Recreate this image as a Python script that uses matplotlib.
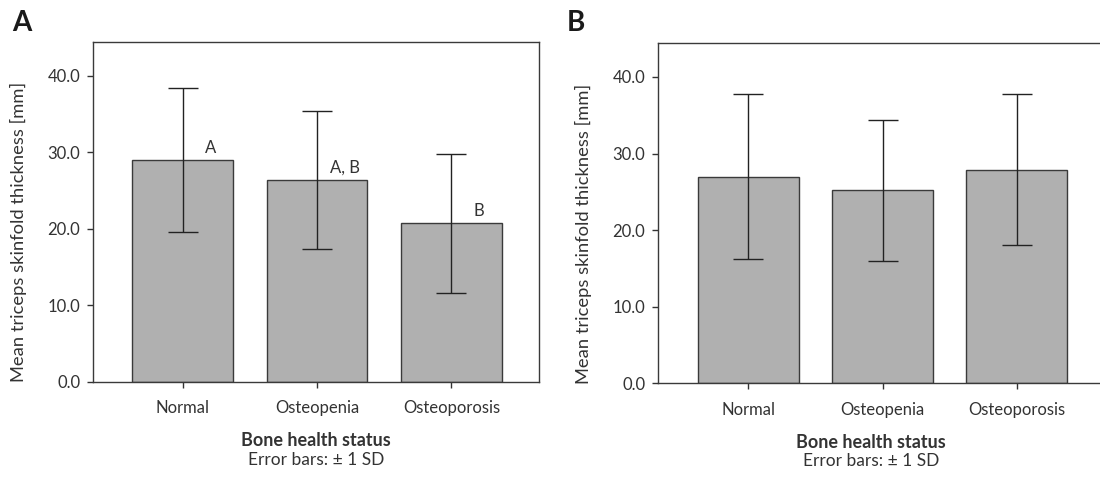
import matplotlib
matplotlib.use("Agg")
import matplotlib.pyplot as plt
import numpy as np

plt.rcParams['font.family'] = ['Lato', 'DejaVu Sans']

groups = ["Normal", "Osteopenia", "Osteoporosis"]

# panel A
means_a = [29.0, 26.4, 20.7]
sd_a = [9.4, 9.0, 9.1]
letters_a = ["A", "A, B", "B"]

# panel B
means_b = [27.0, 25.2, 27.9]
sd_b = [10.8, 9.2, 9.9]

y_ticks = [0, 10, 20, 30, 40]
ylabel = "Mean triceps skinfold thickness [mm]"
xlabel = "Bone health status"
note = "Error bars: \u00b1 1 SD"

txt = "#333333"
bar_fill = "#b0b0b0"
bar_edge = "#3a3a3a"

fig = plt.figure(figsize=(11, 4.79), dpi=100)

W, H = 1100, 479


def px_axes(left, top, right, bottom):
    return fig.add_axes([left / W, 1 - bottom / H, (right - left) / W, (bottom - top) / H])


def draw_panel(ax, means, sds, xlim, xlab_x):
    x = np.arange(len(groups))
    ax.bar(x, means, width=0.75, color=bar_fill, edgecolor=bar_edge, linewidth=1.0, zorder=2)
    ax.errorbar(x, means, yerr=sds, fmt="none", ecolor="#222222", elinewidth=1.0,
                capsize=11, capthick=1.0, zorder=3)
    ax.set_xlim(*xlim)
    ax.set_ylim(0, 44.4)
    ax.set_xticks(x)
    ax.set_xticklabels(groups)
    ax.set_yticks(y_ticks)
    ax.set_yticklabels([f"{v:.1f}" for v in y_ticks])
    ax.tick_params(axis="both", direction="out", length=4.3, width=1.0, color="#333333",
                   labelsize=12, labelcolor=txt)
    ax.tick_params(axis="y", pad=5)
    ax.tick_params(axis="x", pad=9)
    for s in ax.spines.values():
        s.set_color("#3a3a3a")
        s.set_linewidth(1.0)
    ax.set_ylabel(ylabel, fontsize=13.2, color=txt)
    ax.yaxis.label.set_va("center")
    ax.yaxis.set_label_coords(-74.5 / (ax.get_position().width * W), 0.44)
    ax.set_xlabel(xlabel, fontsize=13, fontweight="bold", color=txt)
    ax.xaxis.label.set_va("center")
    ax.xaxis.set_label_coords(xlab_x, -59 / (ax.get_position().height * H))
    ax.text(xlab_x, -78 / (ax.get_position().height * H), note, transform=ax.transAxes,
            ha="center", va="center", fontsize=12.5, color=txt)


ax_a = px_axes(93.3, 42, 539.3, 381.7)
draw_panel(ax_a, means_a, sd_a, (-0.666, 2.655), 0.5)
for i, (m, lab) in enumerate(zip(means_a, letters_a)):
    ax_a.annotate(lab, (i + 0.205, m), xytext=(0, 5), textcoords="offset points",
                  ha="center", va="baseline", fontsize=12, color=txt)

ax_b = px_axes(658.3, 43.3, 1106.8, 383.3)
draw_panel(ax_b, means_b, sd_b, (-0.671, 2.671), 0.474)

fig.text(22 / W, 1 - 23 / H, "A", fontsize=20, fontweight="bold", color="#1a1a1a",
         ha="center", va="center")
fig.text(576 / W, 1 - 23 / H, "B", fontsize=20, fontweight="bold", color="#1a1a1a",
         ha="center", va="center")

fig.savefig("out.png", dpi=100)
